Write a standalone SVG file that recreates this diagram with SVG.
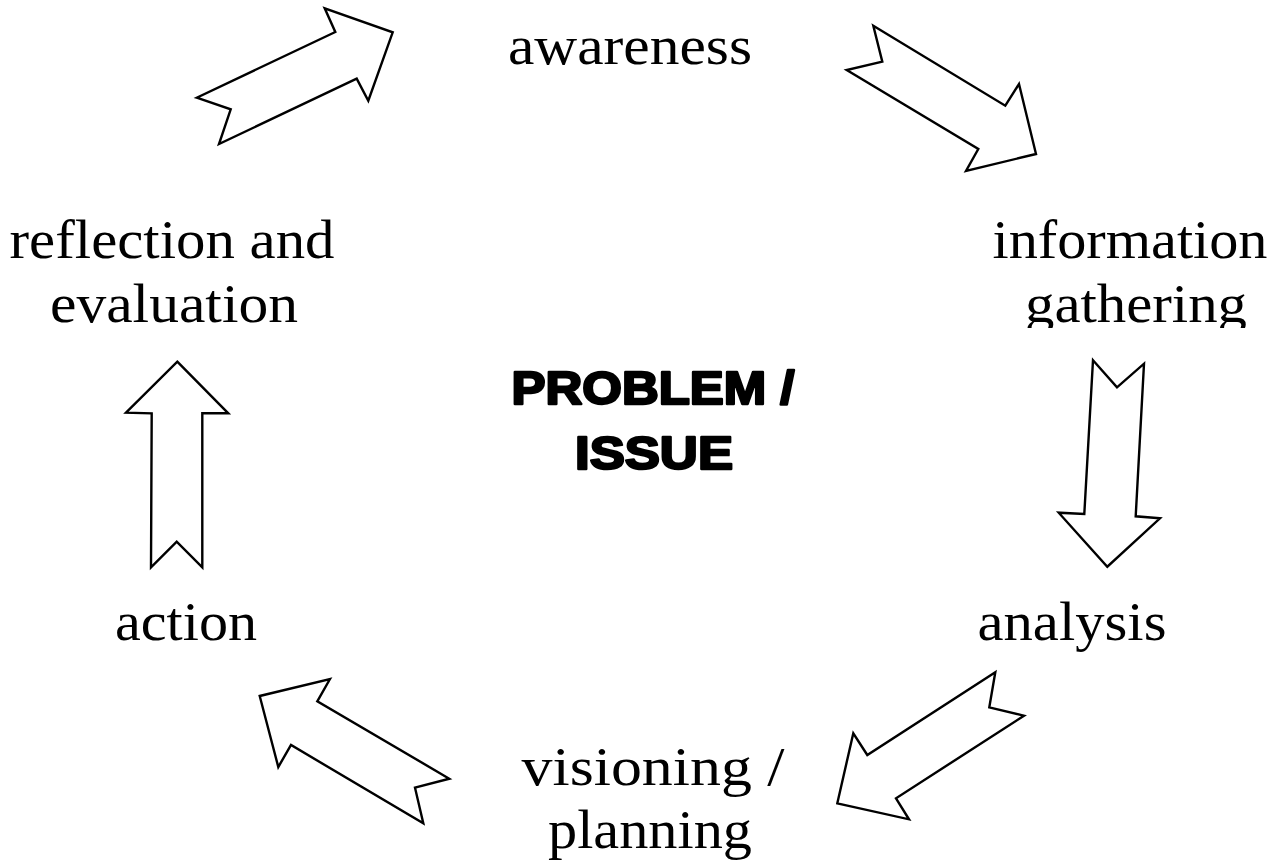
<svg xmlns="http://www.w3.org/2000/svg" width="1285" height="867" viewBox="0 0 1285 867">
<style>
.lbl{font-family:"Liberation Serif","Times New Roman",serif;font-size:54px;fill:#000;text-anchor:middle}
.ctr{font-family:"Liberation Sans",Arial,sans-serif;font-weight:bold;font-size:46px;fill:#000;stroke:#000;stroke-width:2.4;stroke-linejoin:round;text-anchor:middle}
.arr{fill:#fff;stroke:#000;stroke-width:2.4;stroke-linejoin:miter}
</style>
<defs>
<clipPath id="clipG"><rect x="900" y="270" width="385" height="58"/></clipPath>
</defs>
<rect width="1285" height="867" fill="#fff"/>
<g id="connectors">
<polygon class="arr" points="196.7,97.7 230.7,109.3 219,144 356.7,78.7 368.3,100.7 392.7,32.3 324.7,8.3 335.3,32"/>
<polygon class="arr" points="873.3,25.7 882.3,61.7 846.7,70 978.3,149 966,171 1036,154 1019,84 1005.3,105.7"/>
<polygon class="arr" points="1093,360.3 1117,387.3 1144,363.7 1135.7,516.3 1160,518.3 1107.3,566.7 1058.7,512.7 1084.3,514"/>
<polygon class="arr" points="177.3,361.7 228.3,413.3 202.3,413.3 202.3,567.3 176.7,541.7 151,567.3 151.7,413.3 126,412.7"/>
<polygon class="arr" points="995.3,672.3 989.3,707.3 1024,715.7 896,798.3 909,819.3 837.3,803.3 853.3,733.3 867.3,755"/>
<polygon class="arr" points="330,679 317.3,701.3 449.3,778.7 415,787.7 423.3,823.3 291,745 278.3,767 259.7,696"/>
</g>
<g id="awareness"><text class="lbl" x="630" y="64" textLength="244" lengthAdjust="spacingAndGlyphs">awareness</text></g>
<g id="information-gathering">
<text class="lbl" x="1130" y="258" textLength="275" lengthAdjust="spacingAndGlyphs">information</text>
<text class="lbl" x="1136" y="322" textLength="222" lengthAdjust="spacingAndGlyphs" clip-path="url(#clipG)">gathering</text>
</g>
<g id="analysis"><text class="lbl" x="1072" y="640" textLength="189" lengthAdjust="spacingAndGlyphs">analysis</text></g>
<g id="visioning-planning">
<text class="lbl" x="653" y="785" textLength="263" lengthAdjust="spacingAndGlyphs">visioning /</text>
<text class="lbl" x="650" y="848" textLength="204" lengthAdjust="spacingAndGlyphs">planning</text>
</g>
<g id="action"><text class="lbl" x="186" y="640" textLength="142" lengthAdjust="spacingAndGlyphs">action</text></g>
<g id="reflection-evaluation">
<text class="lbl" x="172" y="258" textLength="325" lengthAdjust="spacingAndGlyphs">reflection and</text>
<text class="lbl" x="174" y="322" textLength="248" lengthAdjust="spacingAndGlyphs">evaluation</text>
</g>
<g id="problem-issue">
<text class="ctr" x="653" y="404" textLength="283" lengthAdjust="spacingAndGlyphs">PROBLEM /</text>
<text class="ctr" x="654" y="469" textLength="158" lengthAdjust="spacingAndGlyphs">ISSUE</text>
</g>
</svg>
